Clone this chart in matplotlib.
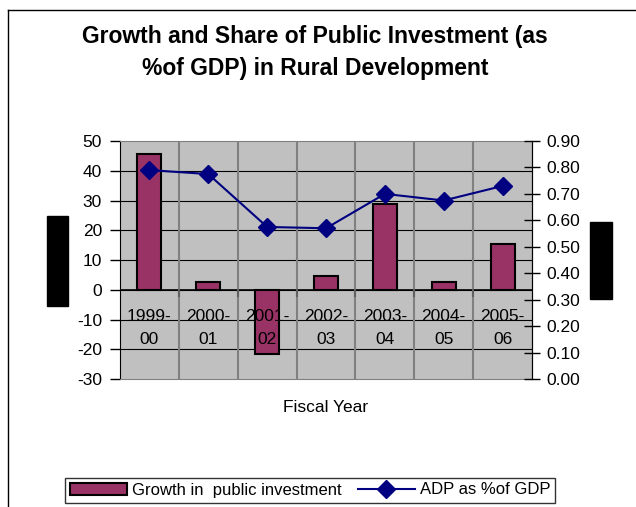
import matplotlib.pyplot as plt
from matplotlib.patches import Rectangle
from matplotlib.lines import Line2D
import numpy as np

plt.rcParams['font.family'] = ['Liberation Sans', 'DejaVu Sans']
plt.rcParams['axes.unicode_minus'] = False

# Données
annees = ['1999-\n00', '2000-\n01', '2001-\n02', '2002-\n03', '2003-\n04', '2004-\n05', '2005-\n06']
croissance = [45.6, 2.5, -21.7, 4.5, 28.8, 2.5, 15.3]    # Growth in public investment (%)
adp_pib = [0.79, 0.775, 0.575, 0.57, 0.70, 0.675, 0.73]  # ADP as % of GDP

W, H = 636, 507
fig = plt.figure(figsize=(W / 100, H / 100), dpi=100)

def px(x0, y0, x1, y1):
    # rectangle en pixels (origine en haut à gauche) -> coordonnées figure
    return [x0 / W, 1 - y1 / H, (x1 - x0) / W, (y1 - y0) / H]

# Cadre extérieur du graphique
fig.add_artist(Line2D([8 / W, 8 / W], [0, 1 - 10 / H], color='black', lw=1))
fig.add_artist(Line2D([8 / W, 1], [1 - 10 / H, 1 - 10 / H], color='black', lw=1))

ax = fig.add_axes(px(120, 141, 532, 379))
ax.set_facecolor('#c0c0c0')
x = np.arange(len(annees))
ax.set_xlim(-0.5, len(annees) - 0.5)
ax.set_ylim(-30, 50)
ax.set_yticks(range(-30, 51, 10))

# Quadrillage
for v in range(-20, 50, 10):
    ax.axhline(v, color='black', lw=0.8, zorder=1)
for k in range(1, len(annees)):
    ax.axvline(k - 0.5, color='#808080', lw=1.5, zorder=1)
ax.axhline(0, color='black', lw=1.2, zorder=3)
for k in range(1, len(annees)):
    ax.plot([k - 0.5, k - 0.5], [0, -2], color='#606060', lw=1.5, zorder=3)

ax.bar(x, croissance, width=0.41, color='#993366', edgecolor='black', lw=1.5, zorder=2)

for i, lab in enumerate(annees):
    ax.text(i, -12.8, lab, ha='center', va='center', fontsize=12.5,
            linespacing=1.7, zorder=6)

ax.set_xticks([])
ax.tick_params(axis='y', direction='out', length=7, width=1, labelsize=12.5, pad=6)
for s in ['top', 'bottom']:
    ax.spines[s].set_color('#808080')
ax.spines['left'].set_color('black')
ax.spines['right'].set_color('black')

ax2 = ax.twinx()
ax2.set_ylim(0, 0.9)
ax2.set_yticks(np.arange(0, 0.91, 0.1))
ax2.set_yticklabels(['%.2f' % v for v in np.arange(0, 0.91, 0.1)])
ax2.tick_params(axis='y', direction='inout', length=12, width=1, labelsize=12.5, pad=4)
ax2.plot(x, adp_pib, color='#000080', lw=1.5, marker='D', markersize=9.5,
         markerfacecolor='#000080', markeredgecolor='#000080', zorder=5)
ax2.spines['right'].set_color('black')
for s in ['top', 'bottom', 'left']:
    ax2.spines[s].set_visible(False)

fig.text(326 / W, 1 - 408 / H, 'Fiscal Year', ha='center', va='center', fontsize=12.5)
fig.text(315 / W, 1 - 53 / H,
         'Growth and Share of Public Investment (as\n%of GDP) in Rural Development',
         ha='center', va='center', fontsize=16.5, fontweight='bold', linespacing=1.5)

# Titres des axes masqués
fig.add_artist(Rectangle((47 / W, 1 - 306 / H), 21 / W, 90 / H, color='black'))
fig.add_artist(Rectangle((590 / W, 1 - 299 / H), 22 / W, 77 / H, color='black'))

# Légende
poignees = [Rectangle((0, 0), 1, 1, facecolor='#993366', edgecolor='black', lw=1.5),
            Line2D([], [], color='#000080', lw=1.5, marker='D', markersize=9.5)]
leg = fig.legend(poignees, ['Growth in  public investment', 'ADP as %of GDP'],
                 loc='center', bbox_to_anchor=(310 / W, 1 - 490 / H), ncol=2,
                 fontsize=12, frameon=True, fancybox=False, edgecolor='black',
                 borderpad=0.3, handlelength=3.4, handletextpad=0.3, columnspacing=1.0)
leg.get_frame().set_linewidth(1)

fig.savefig('out.png', dpi=100)
